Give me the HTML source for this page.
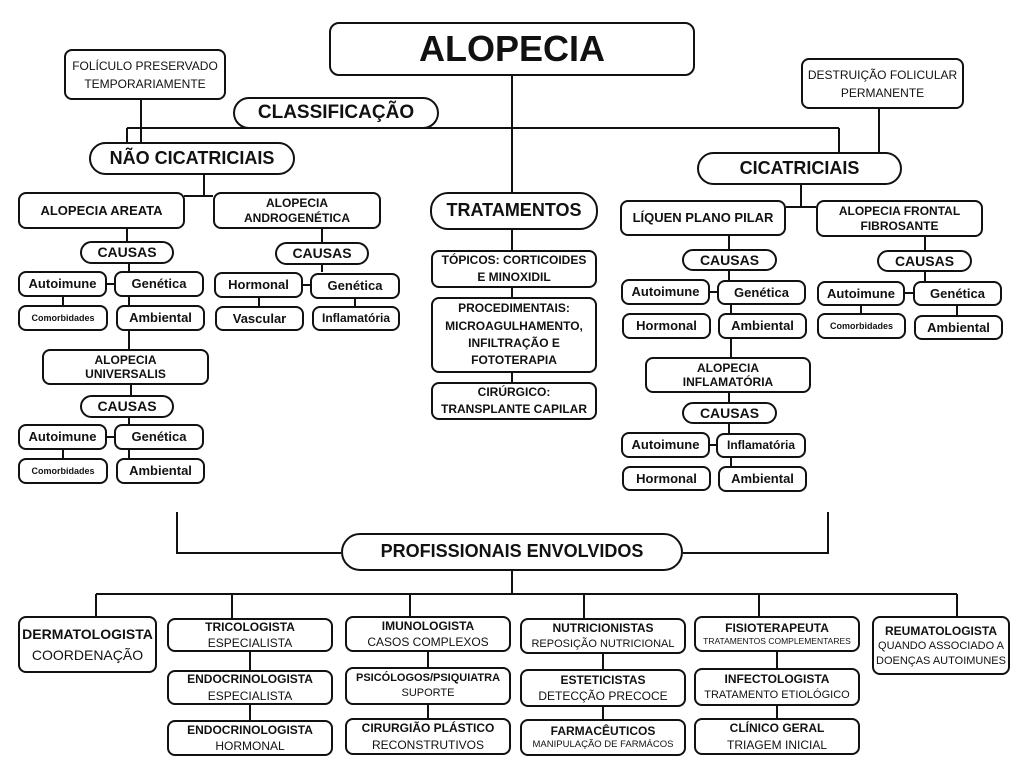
<!DOCTYPE html>
<html><head><meta charset="utf-8"><style>
*{margin:0;padding:0;box-sizing:border-box}
body{width:1024px;height:768px;background:#fff;position:relative;overflow:hidden;font-family:"Liberation Sans",sans-serif;color:#111}
.b{position:absolute;border:2px solid #111;border-radius:8px;background:#fff;display:flex;flex-direction:column;align-items:center;justify-content:center;text-align:center;font-weight:bold;line-height:1.2;white-space:nowrap}
.p{border-radius:18px}
.n{font-weight:normal}
svg{position:absolute;left:0;top:0}
</style></head><body>
<svg width="1024" height="768" stroke="#111" stroke-width="2" fill="none">
<path d="M141 100V145M879 109V152M127 128H839M127 128V143M839 128V152M512 75V193"/>
<path d="M204 174V196M184 196H213M127 229V243M129 263V271M107 284H114M63 297V305M129 297V305M129 331V349M131 385V395M129 418V424M107 437H114M63 450V458M129 450V458"/>
<path d="M322 229V242M322 264V272M303 285H310M259 298V306M355 299V306"/>
<path d="M512 230V250M512 288V297M512 373V382"/>
<path d="M801 184V207M786 207H816M729 236V249M729 271V280M710 292H717M731 305V313M731 339V357M729 393V402M729 424V433M710 445H716M731 458V466"/>
<path d="M925 237V250M925 272V281M905 293H913M861 306V313M957 306V315"/>
<path d="M177 512V553H341M828 512V553H683M512 571V594M96 594H957M96 594V616M232 594V618M410 594V616M584 594V618M759 594V616M957 594V616"/>
<path d="M250 652V670M250 705V720M428 652V667M428 705V718M603 654V669M603 707V719M777 652V668M777 706V718"/>
</svg>

<div class="b" style="left:329px;top:22px;width:366px;height:54px;font-size:36px;border-radius:10px">ALOPECIA</div>
<div class="b n" style="left:64px;top:49px;width:162px;height:51px;font-size:12px;line-height:1.5">FOLÍCULO PRESERVADO<br>TEMPORARIAMENTE</div>
<div class="b n" style="left:801px;top:58px;width:163px;height:51px;font-size:12px;line-height:1.5">DESTRUIÇÃO FOLICULAR<br>PERMANENTE</div>
<div class="b p" style="left:233px;top:97px;width:206px;height:32px;font-size:19px">CLASSIFICAÇÃO</div>
<div class="b p" style="left:89px;top:142px;width:206px;height:33px;font-size:18px">NÃO CICATRICIAIS</div>
<div class="b p" style="left:697px;top:152px;width:205px;height:33px;font-size:18px">CICATRICIAIS</div>

<div class="b" style="left:18px;top:192px;width:167px;height:37px;font-size:13px">ALOPECIA AREATA</div>
<div class="b" style="left:213px;top:192px;width:168px;height:37px;font-size:12px">ALOPECIA<br>ANDROGENÉTICA</div>
<div class="b p" style="left:80px;top:241px;width:94px;height:23px;font-size:14px">CAUSAS</div>
<div class="b" style="left:18px;top:271px;width:89px;height:26px;font-size:13px">Autoimune</div>
<div class="b" style="left:114px;top:271px;width:90px;height:26px;font-size:13px">Genética</div>
<div class="b" style="left:18px;top:305px;width:90px;height:26px;font-size:9px">Comorbidades</div>
<div class="b" style="left:116px;top:305px;width:89px;height:26px;font-size:13px">Ambiental</div>
<div class="b" style="left:42px;top:349px;width:167px;height:36px;font-size:12px">ALOPECIA<br>UNIVERSALIS</div>
<div class="b p" style="left:80px;top:395px;width:94px;height:23px;font-size:14px">CAUSAS</div>
<div class="b" style="left:18px;top:424px;width:89px;height:26px;font-size:13px">Autoimune</div>
<div class="b" style="left:114px;top:424px;width:90px;height:26px;font-size:13px">Genética</div>
<div class="b" style="left:18px;top:458px;width:90px;height:26px;font-size:9px">Comorbidades</div>
<div class="b" style="left:116px;top:458px;width:89px;height:26px;font-size:13px">Ambiental</div>

<div class="b p" style="left:275px;top:242px;width:94px;height:23px;font-size:14px">CAUSAS</div>
<div class="b" style="left:214px;top:272px;width:89px;height:26px;font-size:13px">Hormonal</div>
<div class="b" style="left:310px;top:273px;width:90px;height:26px;font-size:13px">Genética</div>
<div class="b" style="left:215px;top:306px;width:89px;height:25px;font-size:13px">Vascular</div>
<div class="b" style="left:312px;top:306px;width:88px;height:25px;font-size:12px">Inflamatória</div>

<div class="b p" style="left:430px;top:192px;width:168px;height:38px;font-size:18px">TRATAMENTOS</div>
<div class="b" style="left:431px;top:250px;width:166px;height:38px;font-size:12px;line-height:1.4">TÓPICOS: CORTICOIDES<br>E MINOXIDIL</div>
<div class="b" style="left:431px;top:297px;width:166px;height:76px;font-size:12px;line-height:1.45">PROCEDIMENTAIS:<br>MICROAGULHAMENTO,<br>INFILTRAÇÃO E<br>FOTOTERAPIA</div>
<div class="b" style="left:431px;top:382px;width:166px;height:38px;font-size:12px;line-height:1.4">CIRÚRGICO:<br>TRANSPLANTE CAPILAR</div>

<div class="b" style="left:620px;top:200px;width:166px;height:36px;font-size:13px">LÍQUEN PLANO PILAR</div>
<div class="b" style="left:816px;top:200px;width:167px;height:37px;font-size:12px">ALOPECIA FRONTAL<br>FIBROSANTE</div>
<div class="b p" style="left:682px;top:249px;width:95px;height:22px;font-size:14px">CAUSAS</div>
<div class="b" style="left:621px;top:279px;width:89px;height:26px;font-size:13px">Autoimune</div>
<div class="b" style="left:717px;top:280px;width:89px;height:25px;font-size:13px">Genética</div>
<div class="b" style="left:622px;top:313px;width:89px;height:26px;font-size:13px">Hormonal</div>
<div class="b" style="left:718px;top:313px;width:89px;height:26px;font-size:13px">Ambiental</div>
<div class="b" style="left:645px;top:357px;width:166px;height:36px;font-size:12px">ALOPECIA<br>INFLAMATÓRIA</div>
<div class="b p" style="left:682px;top:402px;width:95px;height:22px;font-size:14px">CAUSAS</div>
<div class="b" style="left:621px;top:432px;width:89px;height:26px;font-size:13px">Autoimune</div>
<div class="b" style="left:716px;top:433px;width:90px;height:25px;font-size:12px">Inflamatória</div>
<div class="b" style="left:622px;top:466px;width:89px;height:25px;font-size:13px">Hormonal</div>
<div class="b" style="left:718px;top:466px;width:89px;height:26px;font-size:13px">Ambiental</div>

<div class="b p" style="left:877px;top:250px;width:95px;height:22px;font-size:14px">CAUSAS</div>
<div class="b" style="left:817px;top:281px;width:88px;height:25px;font-size:13px">Autoimune</div>
<div class="b" style="left:913px;top:281px;width:89px;height:25px;font-size:13px">Genética</div>
<div class="b" style="left:817px;top:313px;width:89px;height:26px;font-size:9px">Comorbidades</div>
<div class="b" style="left:914px;top:315px;width:89px;height:25px;font-size:13px">Ambiental</div>

<div class="b p" style="left:341px;top:533px;width:342px;height:38px;font-size:18px;border-radius:19px">PROFISSIONAIS ENVOLVIDOS</div>

<div class="b" style="left:18px;top:616px;width:139px;height:57px;font-size:14px;line-height:1.45">DERMATOLOGISTA<span style="font-weight:normal">COORDENAÇÃO</span></div>
<div class="b" style="left:167px;top:618px;width:166px;height:34px;font-size:12px;line-height:1.35">TRICOLOGISTA<span style="font-weight:normal">ESPECIALISTA</span></div>
<div class="b" style="left:167px;top:670px;width:166px;height:35px;font-size:12px;line-height:1.35">ENDOCRINOLOGISTA<span style="font-weight:normal">ESPECIALISTA</span></div>
<div class="b" style="left:167px;top:720px;width:166px;height:36px;font-size:12px;line-height:1.35">ENDOCRINOLOGISTA<span style="font-weight:normal">HORMONAL</span></div>
<div class="b" style="left:345px;top:616px;width:166px;height:36px;font-size:12px;line-height:1.35">IMUNOLOGISTA<span style="font-weight:normal">CASOS COMPLEXOS</span></div>
<div class="b" style="left:345px;top:667px;width:166px;height:38px;font-size:11px;line-height:1.4">PSICÓLOGOS/PSIQUIATRA<span style="font-weight:normal">SUPORTE</span></div>
<div class="b" style="left:345px;top:718px;width:166px;height:37px;font-size:12px;line-height:1.35">CIRURGIÃO PLÁSTICO<span style="font-weight:normal">RECONSTRUTIVOS</span></div>
<div class="b" style="left:520px;top:618px;width:166px;height:36px;font-size:12px;line-height:1.35">NUTRICIONISTAS<span style="font-weight:normal;font-size:11px">REPOSIÇÃO NUTRICIONAL</span></div>
<div class="b" style="left:520px;top:669px;width:166px;height:38px;font-size:12px;line-height:1.35">ESTETICISTAS<span style="font-weight:normal">DETECÇÃO PRECOCE</span></div>
<div class="b" style="left:520px;top:719px;width:166px;height:37px;font-size:12px;line-height:1.35">FARMACÊUTICOS<span style="font-weight:normal;font-size:9.5px">MANIPULAÇÃO DE FARMÁCOS</span></div>
<div class="b" style="left:694px;top:616px;width:166px;height:36px;font-size:12px;line-height:1.35">FISIOTERAPEUTA<span style="font-weight:normal;font-size:8.5px">TRATAMENTOS COMPLEMENTARES</span></div>
<div class="b" style="left:694px;top:668px;width:166px;height:38px;font-size:12px;line-height:1.35">INFECTOLOGISTA<span style="font-weight:normal;font-size:11px">TRATAMENTO ETIOLÓGICO</span></div>
<div class="b" style="left:694px;top:718px;width:166px;height:37px;font-size:12px;line-height:1.35">CLÍNICO GERAL<span style="font-weight:normal">TRIAGEM INICIAL</span></div>
<div class="b" style="left:872px;top:616px;width:138px;height:59px;font-size:12px;line-height:1.35">REUMATOLOGISTA<span style="font-weight:normal;font-size:11px">QUANDO ASSOCIADO A<br>DOENÇAS AUTOIMUNES</span></div>
</body></html>
